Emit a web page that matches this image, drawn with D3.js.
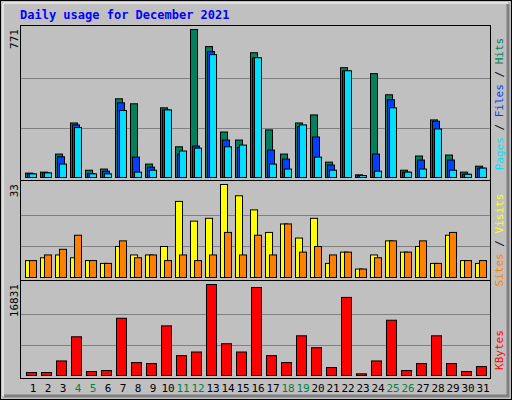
<!DOCTYPE html>
<html lang="en">
<head>
<meta charset="UTF-8">
<title>Daily usage for December 2021</title>
<script src="https://d3js.org/d3.v7.min.js"></script>
<style>
  body { margin: 0; background: #fff; }
  text { font-family: "DejaVu Sans Mono", monospace; }
</style>
</head>
<body>
<div id="chart"></div>
<script>
// data
var days = d3.range(1, 32);
var weekends = [4, 5, 11, 12, 18, 19, 25, 26];
var hits   = [23, 28, 122, 284, 38, 44, 410, 384, 70, 363, 160, 771, 682, 237, 195, 650, 248, 122, 284, 326, 80, 572, 14, 541, 431, 38, 112, 300, 117, 28, 59];
var files  = [19, 24, 108, 274, 21, 33, 389, 106, 54, 352, 122, 164, 656, 195, 157, 623, 143, 96, 265, 211, 65, 555, 10, 122, 405, 28, 91, 293, 91, 17, 49];
var pages  = [19, 24, 70, 260, 19, 19, 349, 28, 38, 352, 138, 153, 640, 160, 169, 624, 70, 44, 274, 106, 38, 556, 10, 33, 363, 28, 44, 253, 38, 17, 49];
var visits = [6, 7, 8, 7, 6, 5, 11, 8, 8, 11, 27, 20, 21, 33, 29, 24, 16, 19, 14, 21, 5, 9, 3, 8, 13, 9, 11, 5, 15, 6, 5];
var sites  = [6, 8, 10, 15, 6, 5, 13, 7, 8, 6, 8, 6, 8, 16, 8, 15, 8, 19, 9, 11, 8, 9, 3, 7, 13, 9, 13, 5, 16, 6, 6];
var kbytes = [551, 551, 2693, 7161, 734, 918, 10588, 2387, 2203, 9180, 3672, 4345, 16831, 5875, 4345, 16280, 3672, 2387, 7344, 5141, 1469, 14444, 306, 2693, 10221, 918, 2203, 7344, 2203, 734, 1652];

var W = 512, H = 400;
var svg = d3.select('#chart').append('svg').attr('width', W).attr('height', H);

// frame
svg.append('rect').attr('x', 0.5).attr('y', 0.5).attr('width', W - 1).attr('height', H - 1)
  .attr('fill', '#c0c0c0').attr('stroke', '#000');
svg.append('path').attr('d', 'M508,4V396H4').attr('fill', 'none').attr('stroke', '#808080').attr('stroke-width', 3);
svg.append('path').attr('d', 'M3,396V3H508').attr('fill', 'none').attr('stroke', '#fff').attr('stroke-width', 1);

svg.append('text').attr('x', 20).attr('y', 19).attr('fill', '#0000ff')
  .attr('font-size', 12).attr('font-weight', 'bold').text('Daily usage for December 2021');

var x = d3.scaleLinear().domain([1, 32]).range([25, 490]);

function panel(top, bottom, max, label, parts) {
  svg.append('rect').attr('x', 20.5).attr('y', top + 0.5).attr('width', 470).attr('height', bottom - top)
    .attr('fill', '#c0c0c0').attr('stroke', '#000');
  var y = d3.scaleLinear().domain([0, max]).range([bottom - 3, top + 4]);
  [max / 3, 2 * max / 3].forEach(function (v) {
    svg.append('line').attr('x1', 21).attr('x2', 490).attr('y1', Math.round(y(v)) + 0.5).attr('y2', Math.round(y(v)) + 0.5)
      .attr('stroke', '#808080');
  });
  svg.append('text').attr('transform', 'translate(18,' + (top + 4) + ') rotate(-90)')
    .attr('text-anchor', 'end').attr('font-size', 11).attr('fill', '#000').text(label);
  return y;
}

function bars(y, values, dx, w, color) {
  svg.append('g').selectAll('rect').data(values).enter().append('rect')
    .attr('x', function (d, i) { return x(days[i]) + dx + 0.5; })
    .attr('y', function (d) { return y(d) + 0.5; })
    .attr('width', w)
    .attr('height', function (d) { return y(0) - y(d); })
    .attr('fill', color).attr('stroke', '#000');
}

function sideLabel(cx, cy, pieces) {
  var t = svg.append('text').attr('transform', 'translate(' + cx + ',' + cy + ') rotate(-90)')
    .attr('text-anchor', 'middle').attr('font-size', 11);
  pieces.forEach(function (p) { t.append('tspan').attr('fill', p[1]).text(p[0]); });
}

// panel 1: hits / files / pages
var y1 = panel(25, 180, 771, '771');
bars(y1, hits, 0, 7, '#00805c');
bars(y1, files, 2, 7, '#0040ff');
bars(y1, pages, 4, 7, '#00e0ff');
sideLabel(503, 104, [['Pages', '#00e0ff'], [' / ', '#000'], ['Files', '#0040ff'], [' / ', '#000'], ['Hits', '#00805c']]);

// panel 2: visits / sites
var y2 = panel(180, 280, 33, '33');
bars(y2, visits, 0, 7, '#ffff00');
bars(y2, sites, 4, 7, '#ff8000');
sideLabel(503, 240, [['Sites', '#ff8000'], [' / ', '#000'], ['Visits', '#ffff00']]);

// panel 3: kbytes
var y3 = panel(280, 378, 16831, '16831');
bars(y3, kbytes, 1, 10, '#ff0000');
sideLabel(503, 350, [['KBytes', '#ff0000']]);

// day labels
svg.append('g').selectAll('text').data(days).enter().append('text')
  .attr('x', function (d) { return x(d) + 8; })
  .attr('y', 392).attr('text-anchor', 'middle').attr('font-size', 11)
  .attr('fill', function (d) { return weekends.indexOf(d) >= 0 ? '#008040' : '#000'; })
  .text(function (d) { return d; });
</script>
</body>
</html>
